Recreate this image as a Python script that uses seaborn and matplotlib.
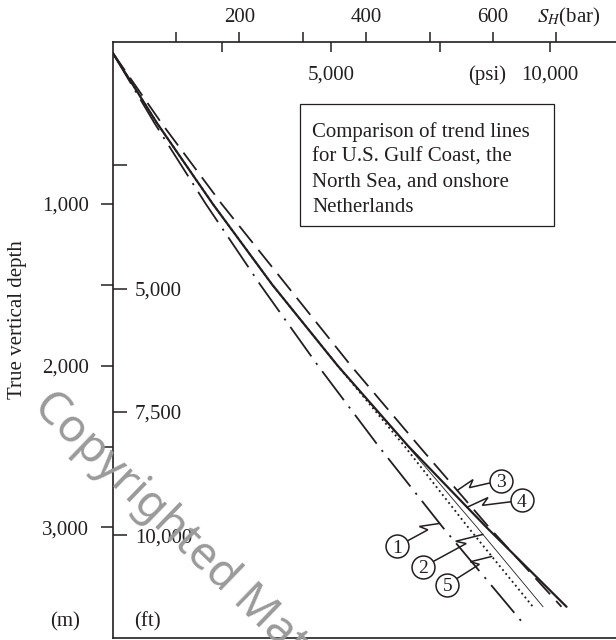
import numpy as np
import pandas as pd
import matplotlib
matplotlib.use("Agg")
import matplotlib.pyplot as plt
from matplotlib.patches import Rectangle
import seaborn as sns

# ---------------- data ----------------
depth_m = [65, 500, 1000, 1500, 2000, 2500, 3000, 3490]
depth_m_line1 = [65, 500, 1000, 1500, 2000, 2500, 3000, 3585]
sh_line1 = [0, 66, 147, 233, 324, 420, 521, 646]   # dash-dot
sh_line2 = [0, 70, 158, 252, 355, 466, 575, 679]   # thin solid
sh_line3 = [0, 77, 172, 274, 376, 484, 594, 708]   # dashed
sh_line4 = [0, 70, 158, 252, 355, 467, 590, 716]   # thick solid
sh_line5 = [0, 70, 158, 252, 355, 461, 561, 663]   # dotted

bar_ticks = [100, 200, 300, 400, 500, 600, 700]
bar_labels = ["", "200", "", "400", "", "600", ""]
psi_ticks = [2500, 5000, 7500, 10000]
psi_labels = ["", "5,000", "", "10,000"]
m_ticks = [1000, 1500, 2000, 2500, 3000]
m_labels = ["1,000", "", "2,000", "", "3,000"]
ft_ticks = [2500, 5000, 7500, 10000]
ft_labels = ["", "5,000", "7,500", "10,000"]

label_ids = ["1", "2", "3", "4", "5"]
label_centers = [(449, 3117), (490, 3244), (612, 2710), (645, 2833), (528, 3353)]
label_target_depth = [2975, 3043, 2771, 2875, 3179]

box_lines = ["Comparison of trend lines", "for U.S. Gulf Coast, the",
             "North Sea, and onshore", "Netherlands"]

# ---------------- styling ----------------
sns.set_theme(style="white")
plt.rcParams["font.family"] = ["Liberation Serif", "DejaVu Serif"]
plt.rcParams["mathtext.fontset"] = "stix"
INK = "#231f20"
W, H = 616, 640
FS = 15

fig = plt.figure(figsize=(W / 100, H / 100), dpi=100)
ax = fig.add_axes([112.5 / W, 1 - 638 / H, (W - 112.5) / W, (638 - 42) / H])

series = {"1": (depth_m_line1, sh_line1), "2": (depth_m, sh_line2),
          "3": (depth_m, sh_line3), "4": (depth_m, sh_line4),
          "5": (depth_m, sh_line5)}
rows = []
for k, (d, s) in series.items():
    for dd, ss in zip(d, s):
        rows.append({"trend": k, "depth": dd, "S_H": ss})
df = pd.DataFrame(rows)

styles = {
    "1": dict(lw=1.3, linestyle=(0, (20, 4.5, 1.2, 4.5))),
    "2": dict(lw=0.6, linestyle="-"),
    "3": dict(lw=1.3, linestyle=(0, (12, 5))),
    "4": dict(lw=1.6, linestyle="-"),
    "5": dict(lw=1.35, linestyle=(0, (1, 1.7))),
}
for k in ["1", "3", "4", "2", "5"]:
    sub = df[df["trend"] == k]
    sns.lineplot(data=sub, x="S_H", y="depth", orient="y", sort=True,
                 estimator=None, color=INK, ax=ax, **styles[k])

ax.set_xlim(0, 794)
ax.set_ylim(3683, 0)

# spines
for side in ["top", "left", "bottom"]:
    ax.spines[side].set_visible(True)
    ax.spines[side].set_color(INK)
    ax.spines[side].set_linewidth(1.2)
ax.spines["right"].set_visible(False)

# top axis: bar
ax.xaxis.tick_top()
ax.set_xticks(bar_ticks, bar_labels)
ax.tick_params(axis="x", top=True, bottom=False, labeltop=True,
               labelbottom=False, direction="out", length=7.2, width=1.1,
               pad=3.6, labelsize=FS, colors=INK)
# top axis: psi (ticks pointing down, labels inside)
secx = ax.secondary_xaxis("top", functions=(lambda b: b * 14.5038,
                                             lambda p: p / 14.5038))
secx.set_xticks(psi_ticks, psi_labels)
secx.tick_params(axis="x", direction="in", length=7.2, width=1.1,
                 pad=-30.7, labelsize=FS, colors=INK)
secx.spines["top"].set_visible(False)

# left axis: metres
ax.set_yticks(m_ticks, m_labels)
ax.tick_params(axis="y", left=True, right=False, direction="out",
               length=8.6, width=1.1, pad=8.3, labelsize=FS, colors=INK)
# left axis: feet (ticks pointing right, labels inside)
secy = ax.secondary_yaxis("left", functions=(lambda m: m / 0.3048,
                                              lambda f: f * 0.3048))
secy.set_yticks(ft_ticks, ft_labels, ha="left")
secy.tick_params(axis="y", direction="in", length=10, width=1.1,
                 pad=-16.2, labelsize=FS, colors=INK)
secy.spines["left"].set_visible(False)

ax.set_xlabel("")
ax.set_ylabel("True vertical depth", fontsize=FS, color=INK)
ax.yaxis.set_label_coords(-0.1700, 0.5336)


def px(x, y):
    return x / W, 1 - y / H


fig.text(*px(536.7, 22.7), r"$S_H$(bar)", ha="left", va="baseline",
         fontsize=FS, color=INK)
fig.text(*px(486.7, 80), "(psi)", ha="center", va="baseline",
         fontsize=FS, color=INK)
fig.text(*px(65, 626.7), "(m)", ha="center", va="baseline",
         fontsize=FS, color=INK)
fig.text(*px(147.5, 626.7), "(ft)", ha="center", va="baseline",
         fontsize=FS, color=INK)

# annotation box
x0, y0 = (300 - 112.5) / 503.5, 1 - (226 - 42) / 596
x1, y1 = (554 - 112.5) / 503.5, 1 - (104 - 42) / 596
ax.add_patch(Rectangle((x0, y0), x1 - x0, y1 - y0, transform=ax.transAxes,
                       fc="white", ec=INK, lw=0.9, zorder=3))
for i, line in enumerate(box_lines):
    fig.text(*px(312.3, 136.7 + 25 * i), line, ha="left", va="baseline",
             fontsize=FS, color=INK, zorder=4)

# numbered leaders
fig.canvas.draw()
for lid, (cx, cy), td in zip(label_ids, label_centers, label_target_depth):
    d_arr, s_arr = series[lid]
    ts = np.interp(td, d_arr, s_arr)
    P = ax.transData.transform((cx, cy))
    T = ax.transData.transform((ts, td))
    dv = T - P
    u = dv / np.hypot(*dv)
    n = np.array([-u[1], u[0]])
    if n[1] < 0:
        n = -n
    A = P + 0.72 * dv
    B = A - 0.12 * dv + n * 7
    pts = ax.transData.inverted().transform(np.array([P, A, B, T]))
    ax.plot(pts[:, 0], pts[:, 1], color=INK, lw=1.1, zorder=5,
            solid_joinstyle="miter")
    ax.plot([cx], [cy], marker="o", ms=16.5, mfc="white", mec=INK, mew=1.1,
            zorder=6)
    ax.text(cx, cy, lid, ha="center", va="center_baseline", fontsize=14,
            color=INK, zorder=7)

# watermark
fig.text(*px(32, 408), "Copyrighted Material", rotation=-44,
         rotation_mode="anchor", ha="left", va="baseline", fontsize=33,
         color="#9a9a9a", family="Noto Sans", zorder=8)

fig.savefig("out.png", dpi=100)
